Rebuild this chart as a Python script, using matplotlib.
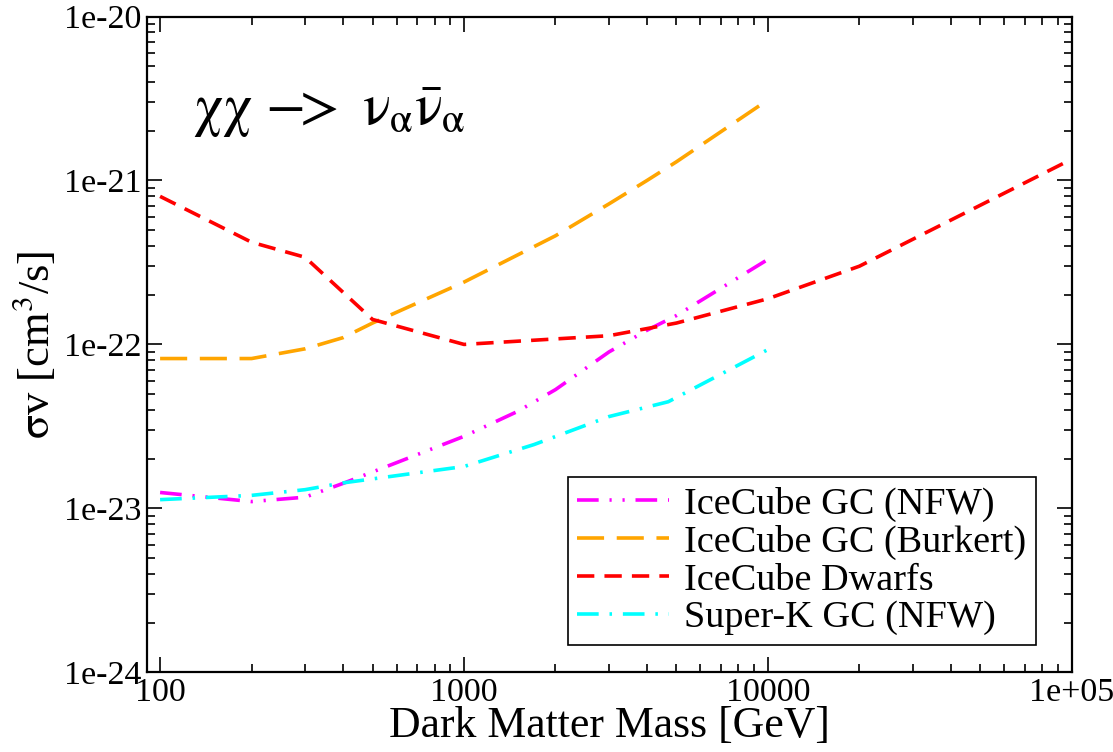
import matplotlib
matplotlib.use("Agg")
import matplotlib.pyplot as plt
from matplotlib.ticker import FixedLocator, FixedFormatter, LogLocator, NullFormatter

plt.rcParams['font.family'] = ['Liberation Serif', 'DejaVu Serif']
plt.rcParams['mathtext.fontset'] = 'stix'

# --- data ---
nfw_mass = [100, 200, 300, 400, 600, 1000, 1500, 2000, 3000, 4000, 5000, 10000]
nfw_sv = [1.25e-23, 1.1e-23, 1.17e-23, 1.42e-23, 1.9e-23, 2.75e-23, 3.9e-23, 5.3e-23, 9.0e-23, 1.22e-22, 1.5e-22, 3.3e-22]

burkert_mass = [100, 200, 300, 400, 500, 1000, 2000, 3000, 4000, 5000, 10000]
burkert_sv = [8.2e-23, 8.2e-23, 9.4e-23, 1.1e-22, 1.35e-22, 2.4e-22, 4.6e-22, 7.2e-22, 1.0e-21, 1.3e-21, 3.1e-21]

dwarf_mass = [100, 200, 300, 500, 1000, 3000, 5000, 10000, 20000, 100000]
dwarf_sv = [8.0e-22, 4.2e-22, 3.4e-22, 1.42e-22, 1.0e-22, 1.13e-22, 1.35e-22, 1.9e-22, 3.0e-22, 1.35e-21]

superk_mass = [100, 200, 300, 400, 1000, 1700, 3000, 4700, 10000]
superk_sv = [1.13e-23, 1.2e-23, 1.3e-23, 1.43e-23, 1.8e-23, 2.45e-23, 3.63e-23, 4.47e-23, 9.3e-23]

labels = ["IceCube GC (NFW)", "IceCube GC (Burkert)", "IceCube Dwarfs", "Super-K GC (NFW)"]
colors = ["#ff00ff", "#ffa500", "#ff0000", "#00ffff"]

x_ticks = [100, 1000, 10000, 100000]
x_ticklabels = ["100", "1000", "10000", "1e+05"]
y_ticks = [1e-24, 1e-23, 1e-22, 1e-21, 1e-20]
y_ticklabels = ["1e-24", "1e-23", "1e-22", "1e-21", "1e-20"]

fig = plt.figure(figsize=(11.13, 7.52), dpi=100)
ax = fig.add_axes([0.132, 0.106, 0.831, 0.872])

lw = 2.6
ax.plot(nfw_mass, nfw_sv, color=colors[0], lw=lw, dashes=(6, 3, 0.6, 3, 0.6, 3), label=labels[0])
ax.plot(burkert_mass, burkert_sv, color=colors[1], lw=lw, dashes=(7.5, 3.5), label=labels[1])
ax.plot(dwarf_mass, dwarf_sv, color=colors[2], lw=lw, dashes=(4.8, 2.8), label=labels[2])
ax.plot(superk_mass, superk_sv, color=colors[3], lw=lw, dashes=(6, 3, 0.7, 3), label=labels[3])

ax.set_xscale('log')
ax.set_yscale('log')
ax.set_xlim(90.5, 1e5)
ax.set_ylim(1e-24, 1e-20)

ax.xaxis.set_major_locator(FixedLocator(x_ticks))
ax.xaxis.set_major_formatter(FixedFormatter(x_ticklabels))
ax.yaxis.set_major_locator(FixedLocator(y_ticks))
ax.yaxis.set_major_formatter(FixedFormatter(y_ticklabels))
ax.xaxis.set_minor_locator(LogLocator(base=10, subs=range(2, 10), numticks=20))
ax.yaxis.set_minor_locator(LogLocator(base=10, subs=range(2, 10), numticks=20))
ax.xaxis.set_minor_formatter(NullFormatter())
ax.yaxis.set_minor_formatter(NullFormatter())

ax.tick_params(which='both', direction='in', top=True, right=True, width=1.2, colors='black')
ax.tick_params(which='major', length=11, labelsize=24.5, pad=4)
ax.tick_params(which='minor', length=5.5)
for s in ax.spines.values():
    s.set_linewidth(1.6)

ax.set_xlabel("Dark Matter Mass [GeV]", fontsize=31.5, labelpad=-2)
ax.set_ylabel(r"$\mathrm{\sigma}$v [cm$^3$/s]", fontsize=32, labelpad=4)

ax.text(0.05, 0.835,
        r"$\mathrm{\chi\chi}\ \mathrm{-\!\!>}\ \mathrm{\nu}_{\mathrm{\alpha}}\bar{\mathrm{\nu}}_{\mathrm{\alpha}}$",
        transform=ax.transAxes, fontsize=42)

leg = ax.legend(loc='lower right', bbox_to_anchor=(0.9613, 0.0416), fontsize=27.5,
                frameon=True, fancybox=False, edgecolor='black', framealpha=1,
                handlelength=2.4, handletextpad=0.4, borderpad=0.25, labelspacing=0.08,
                borderaxespad=0)
leg.get_frame().set_linewidth(1.2)

fig.savefig("out.png", dpi=100)
